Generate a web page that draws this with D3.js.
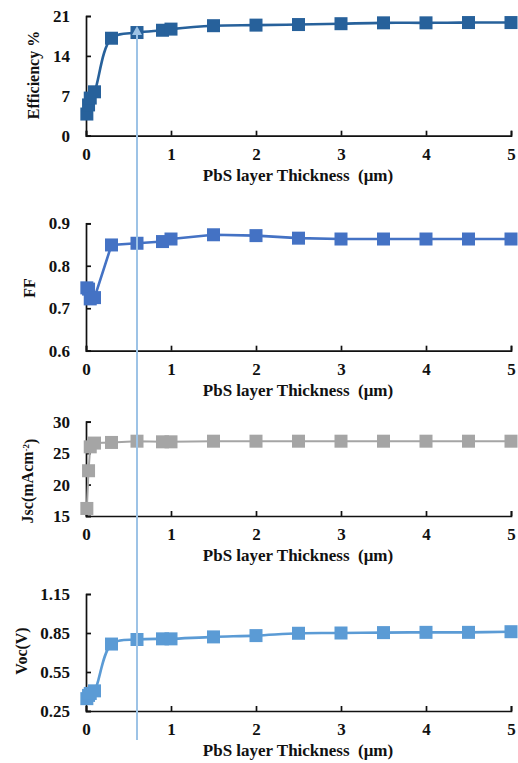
<!DOCTYPE html>
<html>
<head>
<meta charset="utf-8">
<script src="https://cdn.jsdelivr.net/npm/d3@7"></script>
<style>
  body { margin: 0; background: #fff; }
  svg text { font-family: "Liberation Serif", "Times New Roman", serif; font-weight: bold; }
</style>
</head>
<body>
<main></main>
<script>
// thickness values (um) shared by all four panels
const thickness = [0.01, 0.03, 0.05, 0.1, 0.3, 0.6, 0.9, 1, 1.5, 2, 2.5, 3, 3.5, 4, 4.5, 5];
const efficiency = [3.8, 5.4, 6.6, 7.7, 17.1, 18.1, 18.5, 18.7, 19.3, 19.4, 19.5, 19.65, 19.8, 19.8, 19.85, 19.85];
const ff = [0.748, 0.745, 0.722, 0.725, 0.849, 0.853, 0.857, 0.863, 0.873, 0.871, 0.865, 0.863, 0.863, 0.863, 0.863, 0.863];
const jsc = [16.2, 22.2, 26.0, 26.6, 26.7, 26.9, 26.8, 26.8, 26.9, 26.9, 26.9, 26.9, 26.9, 26.9, 26.9, 26.9];
const voc = [0.345, 0.37, 0.385, 0.405, 0.765, 0.80, 0.805, 0.805, 0.82, 0.83, 0.848, 0.85, 0.853, 0.855, 0.855, 0.86];

const xTicks = [0, 1, 2, 3, 4, 5];
const effTicks = [0, 7, 14, 21];
const ffTicks = [0.6, 0.7, 0.8, 0.9];
const jscTicks = [15, 20, 25, 30];
const vocTicks = [0.25, 0.55, 0.85, 1.15];

const xTitle = "PbS layer Thickness  (\u03bcm)";
const markedThickness = 0.6;

var width = 518;
var height = 763;

var svg = d3.select("main")
  .append("svg")
  .attr("width", width)
  .attr("height", height);

const xScale = d3.scaleLinear()
  .domain([0, 5])
  .range([86, 511]);

// one entry per panel: values, axis ticks, pixel band, look
const panels = [
  { values: efficiency, ticks: effTicks, top: 16, bottom: 135.7, color: "#27619b", label: "Efficiency %", labelX: 33, labelY: 75, smooth: true, fmt: d3.format("d") },
  { values: ff, ticks: ffTicks, top: 223.3, bottom: 350.7, color: "#4472c4", label: "FF", labelX: 29, labelY: 288, smooth: false, fmt: d3.format(".1f") },
  { values: jsc, ticks: jscTicks, top: 421.7, bottom: 516, color: "#a5a5a5", label: "Jsc", labelX: 27, labelY: 481, smooth: false, fmt: d3.format("d") },
  { values: voc, ticks: vocTicks, top: 594, bottom: 711, color: "#5b9bd5", label: "Voc(V)", labelX: 21, labelY: 651, smooth: true, fmt: d3.format(".2f") }
];

panels.forEach((p, pi) => {
  const yScale = d3.scaleLinear()
    .domain([p.ticks[0], p.ticks[p.ticks.length - 1]])
    .range([p.bottom, p.top]);

  const g = svg.append("g").attr("class", "panel");

  var x_axis = d3.axisBottom(xScale)
    .tickValues(xTicks)
    .tickSize(-5)
    .tickPadding(12)
    .tickFormat(d3.format("d"));

  g.append("g")
    .attr("transform", "translate(0," + p.bottom + ")")
    .call(x_axis);

  var y_axis = d3.axisLeft(yScale)
    .tickValues(p.ticks)
    .tickSize(-5)
    .tickPadding(16)
    .tickFormat(p.fmt);

  g.append("g")
    .attr("transform", "translate(" + xScale(0) + ",0)")
    .call(y_axis);

  g.selectAll(".domain, .tick line")
    .attr("stroke", "#111")
    .attr("stroke-width", 1.7);

  g.selectAll(".tick text")
    .attr("font-size", 17)
    .attr("fill", "#111");

  g.append("text")
    .attr("x", 298)
    .attr("y", p.bottom + 45)
    .attr("text-anchor", "middle")
    .attr("font-size", 17)
    .attr("fill", "#111")
    .attr("xml:space", "preserve")
    .text(xTitle);

  const lab = g.append("text")
    .attr("transform", "translate(" + p.labelX + "," + p.labelY + ") rotate(-90)")
    .attr("text-anchor", "middle")
    .attr("dy", "0.35em")
    .attr("font-size", 16)
    .attr("fill", "#111")
    .text(p.label);
  if (p.label == "Jsc") {
    lab.append("tspan").text("(mAcm");
    lab.append("tspan").attr("dy", "-0.45em").attr("font-size", 9).text("-2");
    lab.append("tspan").attr("dy", "0.45em").text(")");
  }

  const pts = thickness.map((t, i) => [t, p.values[i]]);

  var line = d3.line()
    .x(d => xScale(d[0]))
    .y(d => yScale(d[1]))
    .curve(p.smooth ? d3.curveCatmullRom.alpha(0.5) : d3.curveLinear);

  g.append("path")
    .datum(pts)
    .attr("fill", "none")
    .attr("stroke", p.color)
    .attr("stroke-width", p.label == "Jsc" ? 2 : 2.6)
    .attr("d", line);

  g.selectAll("rect.mark")
    .data(pts)
    .enter()
    .append("rect")
    .attr("class", "mark")
    .attr("x", d => xScale(d[0]) - 6.5)
    .attr("y", d => yScale(d[1]) - 6.5)
    .attr("width", 13)
    .attr("height", 13)
    .attr("fill", p.color);
});

// vertical marker line at 0.6 um through all panels
const mx = xScale(markedThickness);
svg.append("line")
  .attr("x1", mx)
  .attr("x2", mx)
  .attr("y1", 31)
  .attr("y2", 740)
  .attr("stroke", "#9dc3e6")
  .attr("stroke-width", 2);

svg.append("path")
  .attr("d", "M" + (mx - 5) + ",35 L" + mx + ",26 L" + (mx + 5) + ",35 Z")
  .attr("fill", "#9dc3e6");
</script>
</body>
</html>
